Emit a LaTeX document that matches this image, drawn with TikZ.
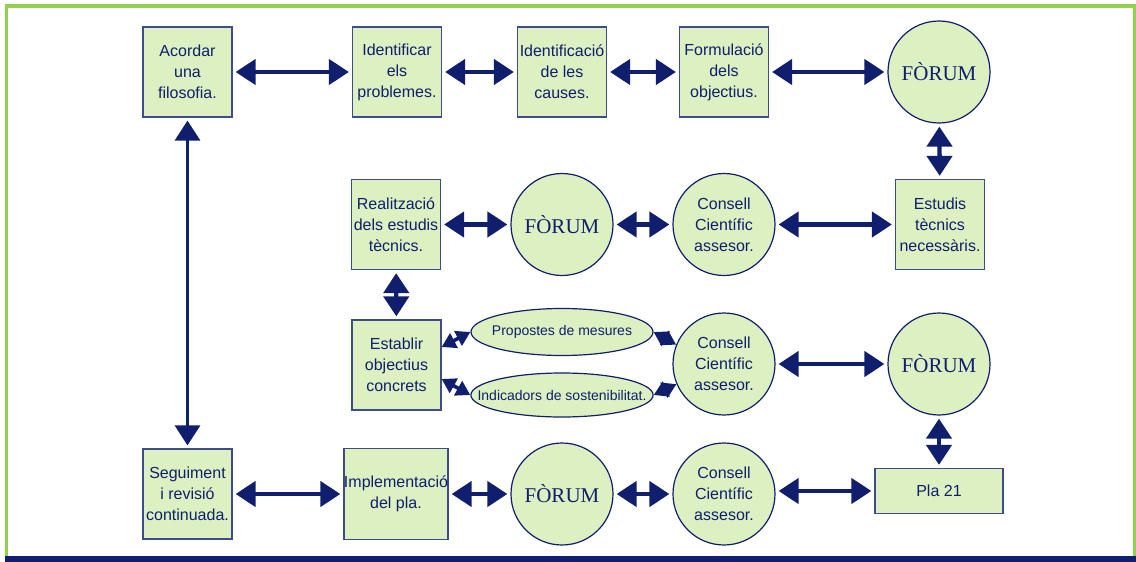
\documentclass[tikz,border=0pt]{standalone}
\usepackage{fontspec}
\setmainfont{Liberation Sans}
\newfontfamily\forumfont{Liberation Serif}
\usetikzlibrary{arrows.meta,shapes.geometric}

\definecolor{navy}{HTML}{0F1F6E}
\definecolor{paleleaf}{HTML}{DDF0C1}
\definecolor{framegreen}{HTML}{92D050}

\tikzset{
  stage/.style={draw=navy!80, line width=0.6pt, fill=paleleaf, text=navy,
    minimum width=44.5pt, minimum height=45pt, inner sep=0pt, align=center,
    font=\fontsize{8}{10.5}\selectfont},
  forum/.style={circle, draw=navy, line width=0.6pt, fill=paleleaf, text=navy,
    minimum size=51pt, inner sep=0pt, font=\forumfont\fontsize{10.5}{12}\selectfont},
  consell/.style={forum, align=center, font=\fontsize{8}{10.5}\selectfont},
  measure/.style={ellipse, draw=navy, line width=0.6pt, fill=paleleaf, text=navy,
    minimum width=91pt, inner xsep=-10pt, inner ysep=0pt, font=\fontsize{7}{8}\selectfont},
  link/.style={navy, line width=2.2pt,
    {Triangle[width=12.5pt,length=10pt]}-{Triangle[width=12.5pt,length=10pt]},
    shorten >=1.5pt, shorten <=1.5pt},
  longlink/.style={link, line width=1.6pt},
  smalllink/.style={navy, line width=1.8pt,
    {Triangle[width=8pt,length=7pt]}-{Triangle[width=8pt,length=7pt]}},
}

\begin{document}
\begin{tikzpicture}[x=0.5pt, y=-0.5pt]
  \useasboundingbox (0,0) rectangle (1136,562);

  % frame
  \draw[framegreen, line width=1.6pt] (6.5,556) -- (6.5,6) -- (1134.5,6) -- (1134.5,556);
  \fill[navy] (5,556) rectangle (1136,562);

  % row 1
  \node[stage] (acordar) at (187.5,72) {Acordar\\una\\filosofia.};
  \node[stage] (identificar) at (397,72) {Identificar\\els\\problemes.};
  \node[stage] (causes) at (562,72) {Identificació\\de les\\causes.};
  \node[stage] (formulacio) at (724,72) {Formulació\\dels\\objectius.};
  \node[forum] (forumA) at (939,72) {FÒRUM};

  % row 2
  \node[stage] (estudis) at (940,224.5) {Estudis\\tècnics\\necessàris.};
  \node[consell] (consellA) at (724,224.5) {Consell\\Científic\\assesor.};
  \node[forum] (forumB) at (562,224.5) {FÒRUM};
  \node[stage] (realitzacio) at (396,224.5) {Realització\\dels estudis\\tècnics.};

  % row 3
  \node[stage] (establir) at (396.5,365) {Establir\\objectius\\concrets};
  \node[measure, minimum height=23.5pt] (propostes) at (562,332) {Propostes de mesures};
  \node[measure, minimum height=22pt] (indicadors) at (562,395) {Indicadors de sostenibilitat.};
  \node[consell] (consellB) at (724,364) {Consell\\Científic\\assesor.};
  \node[forum] (forumC) at (939,364) {FÒRUM};

  % row 4
  \node[stage] (seguiment) at (187.5,494) {Seguiment\\i revisió\\continuada.};
  \node[stage, minimum width=51pt, minimum height=45.5pt] (implementacio) at (396,494) {Implementació\\del pla.};
  \node[forum] (forumD) at (562,494) {FÒRUM};
  \node[consell] (consellC) at (724,494) {Consell\\Científic\\assesor.};
  \node[stage, minimum width=64pt, minimum height=22.5pt] (pla) at (939,491) {Pla 21};

  % connectors
  \draw[link] (acordar) -- (identificar);
  \draw[link] (identificar) -- (causes);
  \draw[link] (causes) -- (formulacio);
  \draw[link] (formulacio) -- (forumA);
  \draw[link] (forumA) -- (estudis);
  \draw[link] (estudis) -- (consellA);
  \draw[link] (consellA) -- (forumB);
  \draw[link] (forumB) -- (realitzacio);
  \draw[link] (realitzacio) -- (establir);
  \draw[link] (consellB) -- (forumC);
  \draw[link] (forumC) -- (pla);
  \draw[link] (consellC.east |- pla) -- (pla.west);
  \draw[link] (forumD) -- (consellC);
  \draw[link] (implementacio) -- (forumD);
  \draw[link] (seguiment) -- (implementacio);
  \draw[longlink] (acordar) -- (seguiment);

  \draw[smalllink] ([yshift=9pt]establir.east) -- (propostes.west);
  \draw[smalllink] ([yshift=-7pt]establir.east) -- (indicadors.west);
  \draw[smalllink] (propostes.east) -- (consellB.158);
  \draw[smalllink] (indicadors.east) -- (consellB.203);
\end{tikzpicture}
\end{document}
